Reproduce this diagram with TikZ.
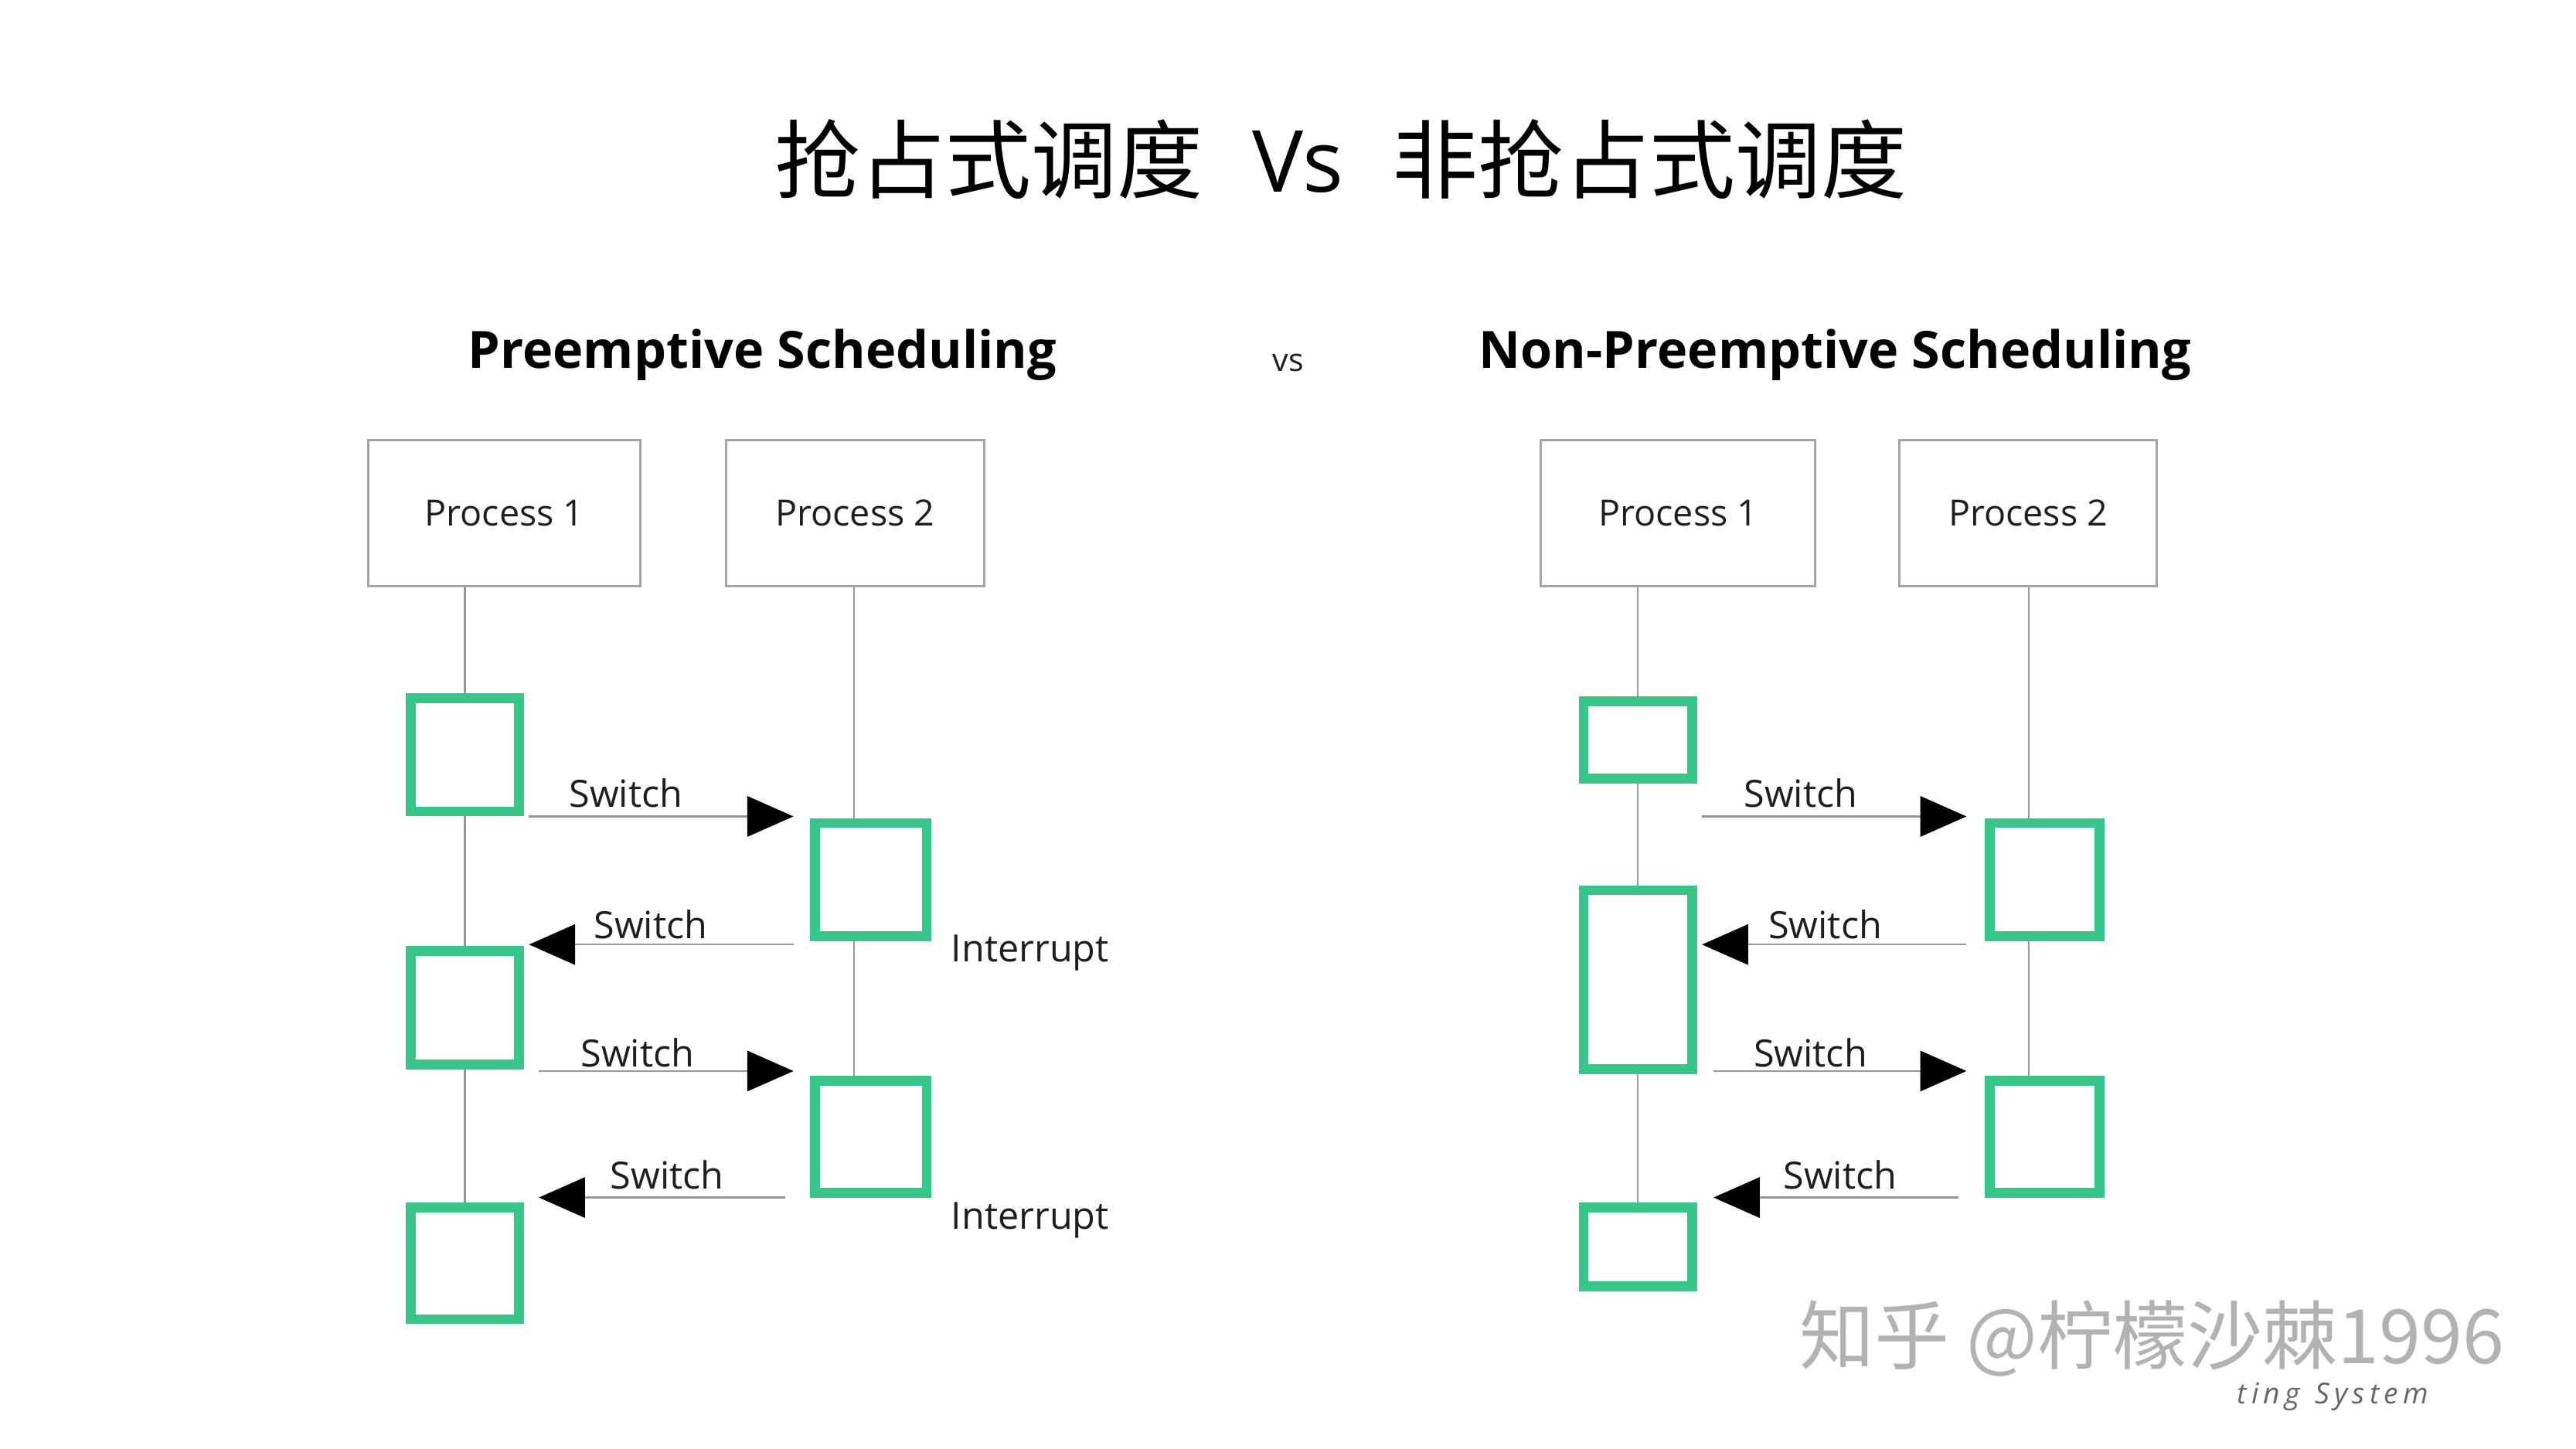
\documentclass[tikz,border=0pt]{standalone}
\usepackage{fontspec}
\setmainfont{Open Sans}
\newfontfamily\cjk{Noto Sans CJK SC}
\usetikzlibrary{arrows.meta}
\definecolor{grn}{RGB}{52,199,137}
\definecolor{boxgray}{RGB}{165,165,165}
\definecolor{linegray}{RGB}{150,150,150}
\definecolor{txt}{RGB}{30,30,30}
\pgfdeclarelayer{bg}
\pgfsetlayers{bg,main}
\newcommand\actbox[5]{\node[act, minimum width={(#4-#2-6)*0.02cm}, minimum height={(#5-#3-6)*0.02cm}] (#1) at ({(#2+#4)/2},{(#3+#5)/2}) {};}
\begin{document}
\begin{tikzpicture}[x=0.02cm,y=-0.02cm,
  proc/.style={draw=boxgray, line width=0.8pt, inner sep=0pt, minimum height=1.78cm, text=txt, font=\fontsize{12.5}{15}\selectfont},
  act/.style={draw=grn, line width=3.4pt, fill=white, inner sep=0pt},
  life/.style={draw=linegray, line width=0.6pt},
  msg/.style={draw=linegray, line width=0.6pt, -{Triangle[length=16pt,width=14pt,color=black]}},
  lbl/.style={text=txt, inner sep=0pt, font=\fontsize{13}{15}\selectfont},
  head/.style={text=black, inner sep=0pt, font=\bfseries\fontsize{17.8}{21}\selectfont}]
\useasboundingbox (0,0) rectangle (1568,882);

% title
\node[inner sep=0pt, text=black, font=\fontsize{29.7}{35}\selectfont] (title) at (816,97)
  {\cjk 抢占式调度\hspace{17pt}{\fontspec{Open Sans}Vs}\hspace{17pt}非抢占式调度};

% headings
\node[head] (hl) at (464,216) {Preemptive Scheduling};
\node[text=txt, inner sep=0pt, font=\fontsize{11}{13}\selectfont] (vs) at (784,221) {vs};
\node[head] (hr) at (1117,216) {Non-Preemptive Scheduling};

% ---------- left diagram ----------
\node[proc, minimum width=3.32cm] (lp1) at (307,312.5) {Process 1};
\node[proc, minimum width=3.14cm] (lp2) at (520.5,312.5) {Process 2};

\actbox{L1}{247}{422}{319}{497}
\actbox{L2}{493}{498}{567}{573}
\actbox{L3}{247}{576}{319}{651}
\actbox{L4}{493}{655}{567}{729}
\actbox{L5}{247}{732}{319}{806}

\coordinate (lp1l) at (283,357);
\coordinate (lp2l) at (520,357);
\begin{pgfonlayer}{bg}
\draw[life] (lp1l) -- (lp1l |- L1.north);
\draw[life] (L1.south) -- (L3.north);
\draw[life] (L3.south) -- (L5.north);
\draw[life] (lp2l) -- (lp2l |- L2.north);
\draw[life] (lp2l |- L2.south) -- (lp2l |- L4.north);
\end{pgfonlayer}

\coordinate (la1s) at (322,497); \coordinate (la1e) at (483,497);
\coordinate (la2s) at (483,575); \coordinate (la2e) at (322,575);
\coordinate (la3s) at (328,652); \coordinate (la3e) at (483,652);
\coordinate (la4s) at (478,729); \coordinate (la4e) at (328,729);
\draw[msg] (la1s) -- (la1e);
\draw[msg] (la2s) -- (la2e);
\draw[msg] (la3s) -- (la3e);
\draw[msg] (la4s) -- (la4e);
\node[lbl] (ls1) at (381,483) {Switch};
\node[lbl] (ls2) at (396,563) {Switch};
\node[lbl] (ls3) at (388,641) {Switch};
\node[lbl] (ls4) at (406,715) {Switch};
\node[lbl] (li1) at (627,580) {Interrupt};
\node[lbl] (li2) at (627,743) {Interrupt};

% ---------- right diagram ----------
\node[proc, minimum width=3.34cm] (rp1) at (1021.5,312.5) {Process 1};
\node[proc, minimum width=3.14cm] (rp2) at (1234.5,312.5) {Process 2};

\actbox{R1}{961}{424}{1033}{477}
\actbox{R2}{1208}{498}{1281}{573}
\actbox{R3}{961}{539}{1033}{654}
\actbox{R4}{1208}{655}{1281}{729}
\actbox{R5}{961}{732}{1033}{786}

\coordinate (rp1l) at (997,357);
\coordinate (rp2l) at (1235,357);
\begin{pgfonlayer}{bg}
\draw[life] (rp1l) -- (rp1l |- R1.north);
\draw[life] (R1.south) -- (R3.north);
\draw[life] (R3.south) -- (R5.north);
\draw[life] (rp2l) -- (rp2l |- R2.north);
\draw[life] (rp2l |- R2.south) -- (rp2l |- R4.north);
\end{pgfonlayer}

\coordinate (ra1s) at (1036,497); \coordinate (ra1e) at (1197,497);
\coordinate (ra2s) at (1197,575); \coordinate (ra2e) at (1036,575);
\coordinate (ra3s) at (1043,652); \coordinate (ra3e) at (1197,652);
\coordinate (ra4s) at (1192,729); \coordinate (ra4e) at (1043,729);
\draw[msg] (ra1s) -- (ra1e);
\draw[msg] (ra2s) -- (ra2e);
\draw[msg] (ra3s) -- (ra3e);
\draw[msg] (ra4s) -- (ra4e);
\node[lbl] (rs1) at (1096,483) {Switch};
\node[lbl] (rs2) at (1111,563) {Switch};
\node[lbl] (rs3) at (1102,641) {Switch};
\node[lbl] (rs4) at (1120,715) {Switch};

% ---------- watermark ----------
\node[inner sep=0pt, text=black!30, font=\cjk\fontsize{26}{30}\selectfont] (wm) at (1310,815) {知乎 @柠檬沙棘1996};
\node[inner sep=0pt, text=black!60, font=\itshape\fontsize{10}{12}\selectfont] (wm2) at (1420,850) {t\,i\,n\,g\ \ S\,y\,s\,t\,e\,m};
\end{tikzpicture}
\end{document}
